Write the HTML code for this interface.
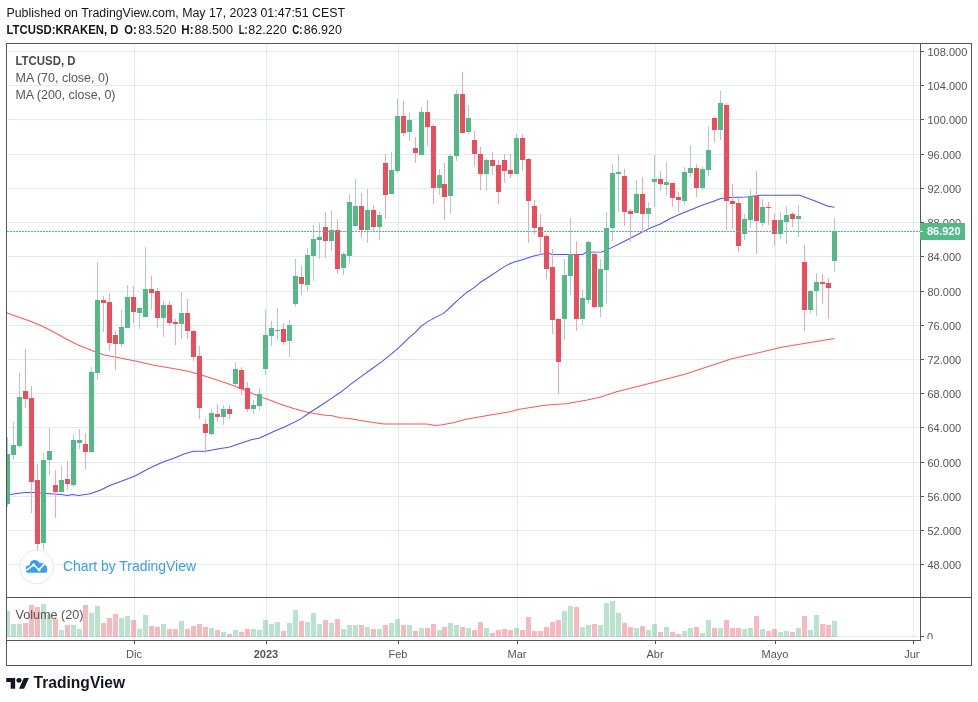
<!DOCTYPE html>
<html lang="en"><head><meta charset="utf-8"><title>LTCUSD chart</title>
<style>html,body{margin:0;padding:0;background:#fff;}body{width:978px;height:702px;overflow:hidden;}svg{display:block;will-change:transform;}</style>
</head><body>
<svg width="978" height="702" viewBox="0 0 978 702" font-family='"Liberation Sans", sans-serif'>
<rect x="0" y="0" width="978" height="702" fill="#ffffff"/>
<defs><clipPath id="cpMain"><rect x="7" y="44" width="913" height="553"/></clipPath><clipPath id="cpVol"><rect x="7" y="598" width="913" height="42"/></clipPath><clipPath id="cpTime"><rect x="7" y="641" width="913" height="24"/></clipPath><clipPath id="cpVolAxis"><rect x="921" y="598" width="50" height="41"/></clipPath><clipPath id="cpPriceAxis"><rect x="921" y="44" width="50" height="553"/></clipPath></defs>
<g shape-rendering="crispEdges" stroke="#e1ecf2" stroke-width="1">
<line x1="134.5" y1="45" x2="134.5" y2="597"/>
<line x1="134.5" y1="598" x2="134.5" y2="639"/>
<line x1="266.5" y1="45" x2="266.5" y2="597"/>
<line x1="266.5" y1="598" x2="266.5" y2="639"/>
<line x1="398.5" y1="45" x2="398.5" y2="597"/>
<line x1="398.5" y1="598" x2="398.5" y2="639"/>
<line x1="517.5" y1="45" x2="517.5" y2="597"/>
<line x1="517.5" y1="598" x2="517.5" y2="639"/>
<line x1="655.5" y1="45" x2="655.5" y2="597"/>
<line x1="655.5" y1="598" x2="655.5" y2="639"/>
<line x1="775.5" y1="45" x2="775.5" y2="597"/>
<line x1="775.5" y1="598" x2="775.5" y2="639"/>
<line x1="913.5" y1="45" x2="913.5" y2="597"/>
<line x1="913.5" y1="598" x2="913.5" y2="639"/>
<line x1="8" y1="564.5" x2="919" y2="564.5"/>
<line x1="8" y1="530.5" x2="919" y2="530.5"/>
<line x1="8" y1="496.5" x2="919" y2="496.5"/>
<line x1="8" y1="462.5" x2="919" y2="462.5"/>
<line x1="8" y1="427.5" x2="919" y2="427.5"/>
<line x1="8" y1="393.5" x2="919" y2="393.5"/>
<line x1="8" y1="359.5" x2="919" y2="359.5"/>
<line x1="8" y1="325.5" x2="919" y2="325.5"/>
<line x1="8" y1="291.5" x2="919" y2="291.5"/>
<line x1="8" y1="256.5" x2="919" y2="256.5"/>
<line x1="8" y1="222.5" x2="919" y2="222.5"/>
<line x1="8" y1="188.5" x2="919" y2="188.5"/>
<line x1="8" y1="154.5" x2="919" y2="154.5"/>
<line x1="8" y1="119.5" x2="919" y2="119.5"/>
<line x1="8" y1="85.5" x2="919" y2="85.5"/>
<line x1="8" y1="51.5" x2="919" y2="51.5"/>
<line x1="8" y1="636.5" x2="919" y2="636.5"/>
</g>
<g clip-path="url(#cpVol)" shape-rendering="crispEdges">
<rect x="5" y="611" width="5" height="26" fill="rgba(83,185,135,0.4)"/>
<rect x="11" y="624" width="5" height="13" fill="rgba(83,185,135,0.4)"/>
<rect x="17" y="624" width="5" height="13" fill="rgba(83,185,135,0.4)"/>
<rect x="23" y="623" width="5" height="14" fill="rgba(235,77,92,0.4)"/>
<rect x="29" y="605" width="5" height="32" fill="rgba(235,77,92,0.4)"/>
<rect x="35" y="607" width="5" height="30" fill="rgba(235,77,92,0.4)"/>
<rect x="41" y="604" width="5" height="33" fill="rgba(83,185,135,0.4)"/>
<rect x="47" y="614" width="5" height="23" fill="rgba(83,185,135,0.4)"/>
<rect x="53" y="619" width="5" height="18" fill="rgba(235,77,92,0.4)"/>
<rect x="59" y="630" width="5" height="7" fill="rgba(83,185,135,0.4)"/>
<rect x="65" y="625" width="5" height="12" fill="rgba(235,77,92,0.4)"/>
<rect x="71" y="625" width="5" height="12" fill="rgba(83,185,135,0.4)"/>
<rect x="77" y="629" width="5" height="8" fill="rgba(83,185,135,0.4)"/>
<rect x="83" y="605" width="5" height="32" fill="rgba(235,77,92,0.4)"/>
<rect x="89" y="613" width="5" height="24" fill="rgba(83,185,135,0.4)"/>
<rect x="95" y="606" width="5" height="31" fill="rgba(83,185,135,0.4)"/>
<rect x="101" y="623" width="5" height="14" fill="rgba(235,77,92,0.4)"/>
<rect x="107" y="618" width="5" height="19" fill="rgba(235,77,92,0.4)"/>
<rect x="113" y="614" width="5" height="23" fill="rgba(235,77,92,0.4)"/>
<rect x="119" y="618" width="5" height="19" fill="rgba(83,185,135,0.4)"/>
<rect x="125" y="616" width="5" height="21" fill="rgba(83,185,135,0.4)"/>
<rect x="131" y="620" width="5" height="17" fill="rgba(235,77,92,0.4)"/>
<rect x="137" y="629" width="5" height="8" fill="rgba(83,185,135,0.4)"/>
<rect x="143" y="615" width="5" height="22" fill="rgba(83,185,135,0.4)"/>
<rect x="149" y="626" width="5" height="11" fill="rgba(235,77,92,0.4)"/>
<rect x="155" y="627" width="5" height="10" fill="rgba(235,77,92,0.4)"/>
<rect x="161" y="624" width="5" height="13" fill="rgba(83,185,135,0.4)"/>
<rect x="167" y="629" width="5" height="8" fill="rgba(235,77,92,0.4)"/>
<rect x="173" y="629" width="5" height="8" fill="rgba(235,77,92,0.4)"/>
<rect x="179" y="621" width="5" height="16" fill="rgba(83,185,135,0.4)"/>
<rect x="185" y="629" width="5" height="8" fill="rgba(235,77,92,0.4)"/>
<rect x="191" y="626" width="5" height="11" fill="rgba(235,77,92,0.4)"/>
<rect x="197" y="624" width="5" height="13" fill="rgba(235,77,92,0.4)"/>
<rect x="203" y="627" width="5" height="10" fill="rgba(235,77,92,0.4)"/>
<rect x="209" y="628" width="5" height="9" fill="rgba(83,185,135,0.4)"/>
<rect x="215" y="630" width="5" height="7" fill="rgba(235,77,92,0.4)"/>
<rect x="221" y="632" width="5" height="5" fill="rgba(83,185,135,0.4)"/>
<rect x="227" y="634" width="5" height="3" fill="rgba(235,77,92,0.4)"/>
<rect x="233" y="630" width="5" height="7" fill="rgba(83,185,135,0.4)"/>
<rect x="239" y="632" width="5" height="5" fill="rgba(235,77,92,0.4)"/>
<rect x="245" y="629" width="5" height="8" fill="rgba(235,77,92,0.4)"/>
<rect x="251" y="629" width="5" height="8" fill="rgba(83,185,135,0.4)"/>
<rect x="257" y="630" width="5" height="7" fill="rgba(83,185,135,0.4)"/>
<rect x="263" y="620" width="5" height="17" fill="rgba(83,185,135,0.4)"/>
<rect x="269" y="624" width="5" height="13" fill="rgba(83,185,135,0.4)"/>
<rect x="275" y="622" width="5" height="15" fill="rgba(83,185,135,0.4)"/>
<rect x="281" y="631" width="5" height="6" fill="rgba(235,77,92,0.4)"/>
<rect x="287" y="623" width="5" height="14" fill="rgba(83,185,135,0.4)"/>
<rect x="293" y="610" width="5" height="27" fill="rgba(83,185,135,0.4)"/>
<rect x="299" y="621" width="5" height="16" fill="rgba(235,77,92,0.4)"/>
<rect x="305" y="622" width="5" height="15" fill="rgba(83,185,135,0.4)"/>
<rect x="311" y="613" width="5" height="24" fill="rgba(83,185,135,0.4)"/>
<rect x="317" y="624" width="5" height="13" fill="rgba(83,185,135,0.4)"/>
<rect x="323" y="620" width="5" height="17" fill="rgba(235,77,92,0.4)"/>
<rect x="329" y="623" width="5" height="14" fill="rgba(83,185,135,0.4)"/>
<rect x="335" y="619" width="5" height="18" fill="rgba(235,77,92,0.4)"/>
<rect x="341" y="629" width="5" height="8" fill="rgba(83,185,135,0.4)"/>
<rect x="347" y="625" width="5" height="12" fill="rgba(83,185,135,0.4)"/>
<rect x="353" y="625" width="5" height="12" fill="rgba(83,185,135,0.4)"/>
<rect x="359" y="625" width="5" height="12" fill="rgba(235,77,92,0.4)"/>
<rect x="365" y="627" width="5" height="10" fill="rgba(83,185,135,0.4)"/>
<rect x="371" y="629" width="5" height="8" fill="rgba(235,77,92,0.4)"/>
<rect x="377" y="629" width="5" height="8" fill="rgba(83,185,135,0.4)"/>
<rect x="383" y="625" width="5" height="12" fill="rgba(235,77,92,0.4)"/>
<rect x="389" y="623" width="5" height="14" fill="rgba(83,185,135,0.4)"/>
<rect x="395" y="619" width="5" height="18" fill="rgba(83,185,135,0.4)"/>
<rect x="401" y="625" width="5" height="12" fill="rgba(235,77,92,0.4)"/>
<rect x="407" y="625" width="5" height="12" fill="rgba(83,185,135,0.4)"/>
<rect x="413" y="631" width="5" height="6" fill="rgba(235,77,92,0.4)"/>
<rect x="419" y="628" width="5" height="9" fill="rgba(83,185,135,0.4)"/>
<rect x="425" y="628" width="5" height="9" fill="rgba(235,77,92,0.4)"/>
<rect x="431" y="624" width="5" height="13" fill="rgba(235,77,92,0.4)"/>
<rect x="437" y="630" width="5" height="7" fill="rgba(83,185,135,0.4)"/>
<rect x="442" y="627" width="5" height="10" fill="rgba(235,77,92,0.4)"/>
<rect x="448" y="623" width="5" height="14" fill="rgba(83,185,135,0.4)"/>
<rect x="454" y="625" width="5" height="12" fill="rgba(83,185,135,0.4)"/>
<rect x="460" y="627" width="5" height="10" fill="rgba(235,77,92,0.4)"/>
<rect x="466" y="628" width="5" height="9" fill="rgba(83,185,135,0.4)"/>
<rect x="472" y="630" width="5" height="7" fill="rgba(235,77,92,0.4)"/>
<rect x="478" y="622" width="5" height="15" fill="rgba(235,77,92,0.4)"/>
<rect x="484" y="628" width="5" height="9" fill="rgba(83,185,135,0.4)"/>
<rect x="490" y="633" width="5" height="4" fill="rgba(235,77,92,0.4)"/>
<rect x="496" y="630" width="5" height="7" fill="rgba(235,77,92,0.4)"/>
<rect x="502" y="629" width="5" height="8" fill="rgba(235,77,92,0.4)"/>
<rect x="508" y="630" width="5" height="7" fill="rgba(235,77,92,0.4)"/>
<rect x="514" y="628" width="5" height="9" fill="rgba(83,185,135,0.4)"/>
<rect x="520" y="630" width="5" height="7" fill="rgba(235,77,92,0.4)"/>
<rect x="526" y="617" width="5" height="20" fill="rgba(235,77,92,0.4)"/>
<rect x="532" y="631" width="5" height="6" fill="rgba(235,77,92,0.4)"/>
<rect x="538" y="631" width="5" height="6" fill="rgba(235,77,92,0.4)"/>
<rect x="544" y="627" width="5" height="10" fill="rgba(235,77,92,0.4)"/>
<rect x="550" y="622" width="5" height="15" fill="rgba(235,77,92,0.4)"/>
<rect x="556" y="620" width="5" height="17" fill="rgba(235,77,92,0.4)"/>
<rect x="562" y="611" width="5" height="26" fill="rgba(83,185,135,0.4)"/>
<rect x="568" y="606" width="5" height="31" fill="rgba(83,185,135,0.4)"/>
<rect x="574" y="607" width="5" height="30" fill="rgba(235,77,92,0.4)"/>
<rect x="580" y="627" width="5" height="10" fill="rgba(83,185,135,0.4)"/>
<rect x="586" y="625" width="5" height="12" fill="rgba(83,185,135,0.4)"/>
<rect x="592" y="624" width="5" height="13" fill="rgba(235,77,92,0.4)"/>
<rect x="598" y="625" width="5" height="12" fill="rgba(83,185,135,0.4)"/>
<rect x="604" y="603" width="5" height="34" fill="rgba(83,185,135,0.4)"/>
<rect x="610" y="601" width="5" height="36" fill="rgba(83,185,135,0.4)"/>
<rect x="616" y="613" width="5" height="24" fill="rgba(83,185,135,0.4)"/>
<rect x="622" y="623" width="5" height="14" fill="rgba(235,77,92,0.4)"/>
<rect x="628" y="627" width="5" height="10" fill="rgba(235,77,92,0.4)"/>
<rect x="634" y="628" width="5" height="9" fill="rgba(83,185,135,0.4)"/>
<rect x="640" y="626" width="5" height="11" fill="rgba(235,77,92,0.4)"/>
<rect x="646" y="630" width="5" height="7" fill="rgba(83,185,135,0.4)"/>
<rect x="652" y="624" width="5" height="13" fill="rgba(83,185,135,0.4)"/>
<rect x="658" y="632" width="5" height="5" fill="rgba(235,77,92,0.4)"/>
<rect x="664" y="627" width="5" height="10" fill="rgba(83,185,135,0.4)"/>
<rect x="670" y="632" width="5" height="5" fill="rgba(235,77,92,0.4)"/>
<rect x="676" y="634" width="5" height="3" fill="rgba(235,77,92,0.4)"/>
<rect x="682" y="631" width="5" height="6" fill="rgba(83,185,135,0.4)"/>
<rect x="688" y="628" width="5" height="9" fill="rgba(83,185,135,0.4)"/>
<rect x="694" y="627" width="5" height="10" fill="rgba(235,77,92,0.4)"/>
<rect x="700" y="633" width="5" height="4" fill="rgba(83,185,135,0.4)"/>
<rect x="706" y="620" width="5" height="17" fill="rgba(83,185,135,0.4)"/>
<rect x="712" y="628" width="5" height="9" fill="rgba(235,77,92,0.4)"/>
<rect x="718" y="628" width="5" height="9" fill="rgba(83,185,135,0.4)"/>
<rect x="724" y="620" width="5" height="17" fill="rgba(235,77,92,0.4)"/>
<rect x="730" y="628" width="5" height="9" fill="rgba(235,77,92,0.4)"/>
<rect x="736" y="628" width="5" height="9" fill="rgba(235,77,92,0.4)"/>
<rect x="742" y="629" width="5" height="8" fill="rgba(83,185,135,0.4)"/>
<rect x="748" y="628" width="5" height="9" fill="rgba(83,185,135,0.4)"/>
<rect x="754" y="616" width="5" height="21" fill="rgba(235,77,92,0.4)"/>
<rect x="760" y="629" width="5" height="8" fill="rgba(83,185,135,0.4)"/>
<rect x="766" y="631" width="5" height="6" fill="rgba(235,77,92,0.4)"/>
<rect x="772" y="629" width="5" height="8" fill="rgba(235,77,92,0.4)"/>
<rect x="778" y="632" width="5" height="5" fill="rgba(83,185,135,0.4)"/>
<rect x="784" y="631" width="5" height="6" fill="rgba(83,185,135,0.4)"/>
<rect x="790" y="632" width="5" height="5" fill="rgba(235,77,92,0.4)"/>
<rect x="796" y="628" width="5" height="9" fill="rgba(83,185,135,0.4)"/>
<rect x="802" y="616" width="5" height="21" fill="rgba(235,77,92,0.4)"/>
<rect x="808" y="630" width="5" height="7" fill="rgba(83,185,135,0.4)"/>
<rect x="814" y="615" width="5" height="22" fill="rgba(83,185,135,0.4)"/>
<rect x="820" y="624" width="5" height="13" fill="rgba(235,77,92,0.4)"/>
<rect x="826" y="625" width="5" height="12" fill="rgba(235,77,92,0.4)"/>
<rect x="832" y="621" width="5" height="16" fill="rgba(83,185,135,0.4)"/>
</g>
<g clip-path="url(#cpMain)">
<polyline points="6.0,312.5 7.1,312.9 18.8,317.2 30.6,321.2 42.3,326.3 54.1,332.2 65.9,338.8 77.6,344.7 89.4,349.4 95.2,351.7 103.5,354.8 117.6,357.6 134.1,360.7 152.9,365.1 171.7,368.2 188.1,371.3 199.9,374.6 211.7,378.3 228.3,383.8 240.6,388.4 251.3,393.0 262.1,397.6 269.8,399.9 279.0,403.8 294.3,408.8 309.6,412.7 325.0,415.3 331.1,415.6 340.0,417.7 349.3,418.4 366.6,421.4 383.9,424.0 426.4,424.0 435.7,425.4 441.0,425.1 454.3,422.4 464.9,419.5 488.9,415.3 510.1,411.8 518.1,409.4 544.7,405.2 566.0,403.8 587.2,400.1 600.0,397.3 616.6,391.7 655.1,381.9 685.7,373.9 730.9,359.0 762.8,351.8 781.4,347.3 834.6,338.5" fill="none" stroke="#ff5858" stroke-width="1.05" stroke-linejoin="round"/>
<polyline points="6.0,494.8 10.2,494.6 24.5,492.4 32.7,492.4 49.0,493.8 61.3,494.6 67.5,495.4 72.6,494.6 78.7,495.6 90.0,493.8 100.2,490.3 110.4,485.2 122.7,480.7 135.0,476.0 151.3,467.2 163.6,461.7 173.8,458.2 184.0,454.1 193.3,451.3 205.3,451.3 217.6,449.0 229.9,447.0 240.6,443.2 251.3,439.8 259.8,438.0 266.7,434.8 275.9,430.6 285.1,426.8 300.4,419.1 309.6,412.7 320.4,405.8 330.3,399.1 340.5,392.3 350.8,384.1 361.0,376.6 371.3,369.2 381.5,361.9 388.4,356.4 398.6,347.9 408.9,337.9 415.0,332.6 421.4,325.9 427.8,321.6 434.9,317.6 443.5,313.4 450.6,307.0 457.7,300.1 467.7,291.7 473.4,288.1 480.5,282.3 489.1,276.8 497.6,271.1 504.7,266.4 510.4,263.5 515.0,261.8 521.8,259.9 532.0,256.4 540.2,254.4 548.4,253.3 552.5,254.4 583.1,254.4 586.2,252.3 601.6,252.1 609.7,248.6 624.0,241.5 640.0,233.2 650.2,228.1 660.4,224.0 670.7,218.2 680.9,213.7 691.1,209.7 701.3,205.6 711.6,202.1 720.8,198.4 730.0,197.4 746.3,197.0 760.7,195.3 799.5,195.3 813.8,200.4 828.1,206.2 834.5,207.3" fill="none" stroke="#5050ff" stroke-width="1.05" stroke-linejoin="round"/>
<g shape-rendering="crispEdges">
<rect x="834" y="218" width="1" height="54" fill="#a9cdd3"/>
<rect x="832" y="231" width="5" height="30" fill="#53b987"/>
<rect x="828" y="278" width="1" height="41" fill="#f5a6ae"/>
<rect x="826" y="283" width="5" height="5" fill="#eb4d5c"/>
<rect x="822" y="274" width="1" height="30" fill="#f5a6ae"/>
<rect x="820" y="282" width="5" height="2" fill="#eb4d5c"/>
<rect x="816" y="273" width="1" height="43" fill="#a9cdd3"/>
<rect x="814" y="282" width="5" height="9" fill="#53b987"/>
<rect x="810" y="290" width="1" height="23" fill="#a9cdd3"/>
<rect x="808" y="291" width="5" height="19" fill="#53b987"/>
<rect x="804" y="245" width="1" height="86" fill="#f5a6ae"/>
<rect x="802" y="262" width="5" height="48" fill="#eb4d5c"/>
<rect x="798" y="205" width="1" height="32" fill="#a9cdd3"/>
<rect x="796" y="216" width="5" height="3" fill="#53b987"/>
<rect x="792" y="212" width="1" height="15" fill="#f5a6ae"/>
<rect x="790" y="214" width="5" height="5" fill="#eb4d5c"/>
<rect x="786" y="206" width="1" height="38" fill="#a9cdd3"/>
<rect x="784" y="215" width="5" height="7" fill="#53b987"/>
<rect x="780" y="212" width="1" height="27" fill="#a9cdd3"/>
<rect x="778" y="220" width="5" height="14" fill="#53b987"/>
<rect x="774" y="214" width="1" height="32" fill="#f5a6ae"/>
<rect x="772" y="220" width="5" height="14" fill="#eb4d5c"/>
<rect x="768" y="202" width="1" height="23" fill="#f5a6ae"/>
<rect x="766" y="207" width="5" height="1" fill="#eb4d5c"/>
<rect x="762" y="199" width="1" height="28" fill="#a9cdd3"/>
<rect x="760" y="207" width="5" height="16" fill="#53b987"/>
<rect x="756" y="171" width="1" height="83" fill="#f5a6ae"/>
<rect x="754" y="196" width="5" height="25" fill="#eb4d5c"/>
<rect x="750" y="190" width="1" height="38" fill="#a9cdd3"/>
<rect x="748" y="196" width="5" height="24" fill="#53b987"/>
<rect x="744" y="214" width="1" height="26" fill="#a9cdd3"/>
<rect x="742" y="219" width="5" height="15" fill="#53b987"/>
<rect x="738" y="198" width="1" height="54" fill="#f5a6ae"/>
<rect x="736" y="203" width="5" height="43" fill="#eb4d5c"/>
<rect x="732" y="184" width="1" height="45" fill="#f5a6ae"/>
<rect x="730" y="201" width="5" height="3" fill="#eb4d5c"/>
<rect x="726" y="103" width="1" height="127" fill="#f5a6ae"/>
<rect x="724" y="105" width="5" height="96" fill="#eb4d5c"/>
<rect x="720" y="91" width="1" height="49" fill="#a9cdd3"/>
<rect x="718" y="103" width="5" height="27" fill="#53b987"/>
<rect x="714" y="117" width="1" height="25" fill="#f5a6ae"/>
<rect x="712" y="118" width="5" height="12" fill="#eb4d5c"/>
<rect x="708" y="126" width="1" height="50" fill="#a9cdd3"/>
<rect x="706" y="150" width="5" height="20" fill="#53b987"/>
<rect x="702" y="166" width="1" height="24" fill="#a9cdd3"/>
<rect x="700" y="169" width="5" height="19" fill="#53b987"/>
<rect x="696" y="164" width="1" height="33" fill="#f5a6ae"/>
<rect x="694" y="168" width="5" height="20" fill="#eb4d5c"/>
<rect x="690" y="145" width="1" height="32" fill="#a9cdd3"/>
<rect x="688" y="168" width="5" height="5" fill="#53b987"/>
<rect x="684" y="167" width="1" height="38" fill="#a9cdd3"/>
<rect x="682" y="172" width="5" height="29" fill="#53b987"/>
<rect x="678" y="192" width="1" height="20" fill="#f5a6ae"/>
<rect x="676" y="197" width="5" height="3" fill="#eb4d5c"/>
<rect x="672" y="183" width="1" height="24" fill="#f5a6ae"/>
<rect x="670" y="183" width="5" height="15" fill="#eb4d5c"/>
<rect x="666" y="162" width="1" height="34" fill="#a9cdd3"/>
<rect x="664" y="182" width="5" height="3" fill="#53b987"/>
<rect x="660" y="171" width="1" height="20" fill="#f5a6ae"/>
<rect x="658" y="179" width="5" height="5" fill="#eb4d5c"/>
<rect x="654" y="155" width="1" height="52" fill="#a9cdd3"/>
<rect x="652" y="179" width="5" height="3" fill="#53b987"/>
<rect x="648" y="202" width="1" height="26" fill="#a9cdd3"/>
<rect x="646" y="208" width="5" height="6" fill="#53b987"/>
<rect x="642" y="177" width="1" height="56" fill="#f5a6ae"/>
<rect x="640" y="194" width="5" height="20" fill="#eb4d5c"/>
<rect x="636" y="180" width="1" height="33" fill="#a9cdd3"/>
<rect x="634" y="194" width="5" height="19" fill="#53b987"/>
<rect x="630" y="209" width="1" height="33" fill="#f5a6ae"/>
<rect x="628" y="211" width="5" height="3" fill="#eb4d5c"/>
<rect x="624" y="169" width="1" height="57" fill="#f5a6ae"/>
<rect x="622" y="176" width="5" height="36" fill="#eb4d5c"/>
<rect x="618" y="155" width="1" height="57" fill="#a9cdd3"/>
<rect x="616" y="172" width="5" height="2" fill="#53b987"/>
<rect x="612" y="164" width="1" height="77" fill="#a9cdd3"/>
<rect x="610" y="173" width="5" height="55" fill="#53b987"/>
<rect x="606" y="212" width="1" height="92" fill="#a9cdd3"/>
<rect x="604" y="228" width="5" height="42" fill="#53b987"/>
<rect x="600" y="259" width="1" height="58" fill="#a9cdd3"/>
<rect x="598" y="269" width="5" height="38" fill="#53b987"/>
<rect x="594" y="251" width="1" height="57" fill="#f5a6ae"/>
<rect x="592" y="254" width="5" height="53" fill="#eb4d5c"/>
<rect x="588" y="241" width="1" height="63" fill="#a9cdd3"/>
<rect x="586" y="242" width="5" height="58" fill="#53b987"/>
<rect x="582" y="290" width="1" height="35" fill="#a9cdd3"/>
<rect x="580" y="298" width="5" height="21" fill="#53b987"/>
<rect x="576" y="241" width="1" height="90" fill="#f5a6ae"/>
<rect x="574" y="254" width="5" height="65" fill="#eb4d5c"/>
<rect x="570" y="218" width="1" height="77" fill="#a9cdd3"/>
<rect x="568" y="254" width="5" height="22" fill="#53b987"/>
<rect x="564" y="259" width="1" height="81" fill="#a9cdd3"/>
<rect x="562" y="275" width="5" height="44" fill="#53b987"/>
<rect x="558" y="318" width="1" height="76" fill="#f5a6ae"/>
<rect x="556" y="319" width="5" height="43" fill="#eb4d5c"/>
<rect x="552" y="249" width="1" height="85" fill="#f5a6ae"/>
<rect x="550" y="267" width="5" height="53" fill="#eb4d5c"/>
<rect x="546" y="234" width="1" height="45" fill="#f5a6ae"/>
<rect x="544" y="236" width="5" height="33" fill="#eb4d5c"/>
<rect x="540" y="214" width="1" height="41" fill="#f5a6ae"/>
<rect x="538" y="227" width="5" height="10" fill="#eb4d5c"/>
<rect x="534" y="200" width="1" height="34" fill="#f5a6ae"/>
<rect x="532" y="206" width="5" height="22" fill="#eb4d5c"/>
<rect x="528" y="158" width="1" height="85" fill="#f5a6ae"/>
<rect x="526" y="159" width="5" height="42" fill="#eb4d5c"/>
<rect x="522" y="134" width="1" height="37" fill="#f5a6ae"/>
<rect x="520" y="138" width="5" height="22" fill="#eb4d5c"/>
<rect x="516" y="134" width="1" height="40" fill="#a9cdd3"/>
<rect x="514" y="138" width="5" height="36" fill="#53b987"/>
<rect x="510" y="154" width="1" height="24" fill="#f5a6ae"/>
<rect x="508" y="170" width="5" height="4" fill="#eb4d5c"/>
<rect x="504" y="154" width="1" height="29" fill="#f5a6ae"/>
<rect x="502" y="160" width="5" height="11" fill="#eb4d5c"/>
<rect x="498" y="160" width="1" height="44" fill="#f5a6ae"/>
<rect x="496" y="165" width="5" height="27" fill="#eb4d5c"/>
<rect x="492" y="152" width="1" height="23" fill="#f5a6ae"/>
<rect x="490" y="160" width="5" height="6" fill="#eb4d5c"/>
<rect x="486" y="158" width="1" height="33" fill="#a9cdd3"/>
<rect x="484" y="160" width="5" height="14" fill="#53b987"/>
<rect x="480" y="147" width="1" height="43" fill="#f5a6ae"/>
<rect x="478" y="154" width="5" height="20" fill="#eb4d5c"/>
<rect x="474" y="131" width="1" height="35" fill="#f5a6ae"/>
<rect x="472" y="140" width="5" height="14" fill="#eb4d5c"/>
<rect x="468" y="105" width="1" height="29" fill="#a9cdd3"/>
<rect x="466" y="118" width="5" height="14" fill="#53b987"/>
<rect x="462" y="72" width="1" height="61" fill="#f5a6ae"/>
<rect x="460" y="94" width="5" height="39" fill="#eb4d5c"/>
<rect x="456" y="90" width="1" height="71" fill="#a9cdd3"/>
<rect x="454" y="94" width="5" height="62" fill="#53b987"/>
<rect x="450" y="154" width="1" height="60" fill="#a9cdd3"/>
<rect x="448" y="156" width="5" height="40" fill="#53b987"/>
<rect x="444" y="163" width="1" height="57" fill="#f5a6ae"/>
<rect x="442" y="184" width="5" height="13" fill="#eb4d5c"/>
<rect x="439" y="169" width="1" height="26" fill="#a9cdd3"/>
<rect x="437" y="175" width="5" height="13" fill="#53b987"/>
<rect x="433" y="124" width="1" height="80" fill="#f5a6ae"/>
<rect x="431" y="126" width="5" height="62" fill="#eb4d5c"/>
<rect x="427" y="100" width="1" height="46" fill="#f5a6ae"/>
<rect x="425" y="112" width="5" height="15" fill="#eb4d5c"/>
<rect x="421" y="107" width="1" height="48" fill="#a9cdd3"/>
<rect x="419" y="112" width="5" height="43" fill="#53b987"/>
<rect x="415" y="137" width="1" height="26" fill="#f5a6ae"/>
<rect x="413" y="148" width="5" height="5" fill="#eb4d5c"/>
<rect x="409" y="113" width="1" height="28" fill="#a9cdd3"/>
<rect x="407" y="120" width="5" height="12" fill="#53b987"/>
<rect x="403" y="101" width="1" height="35" fill="#f5a6ae"/>
<rect x="401" y="116" width="5" height="17" fill="#eb4d5c"/>
<rect x="397" y="99" width="1" height="74" fill="#a9cdd3"/>
<rect x="395" y="116" width="5" height="55" fill="#53b987"/>
<rect x="391" y="152" width="1" height="42" fill="#a9cdd3"/>
<rect x="389" y="170" width="5" height="24" fill="#53b987"/>
<rect x="385" y="154" width="1" height="65" fill="#f5a6ae"/>
<rect x="383" y="163" width="5" height="32" fill="#eb4d5c"/>
<rect x="379" y="212" width="1" height="28" fill="#a9cdd3"/>
<rect x="377" y="215" width="5" height="12" fill="#53b987"/>
<rect x="373" y="205" width="1" height="26" fill="#f5a6ae"/>
<rect x="371" y="210" width="5" height="17" fill="#eb4d5c"/>
<rect x="367" y="189" width="1" height="54" fill="#a9cdd3"/>
<rect x="365" y="210" width="5" height="20" fill="#53b987"/>
<rect x="361" y="193" width="1" height="45" fill="#f5a6ae"/>
<rect x="359" y="206" width="5" height="24" fill="#eb4d5c"/>
<rect x="355" y="179" width="1" height="48" fill="#a9cdd3"/>
<rect x="353" y="206" width="5" height="20" fill="#53b987"/>
<rect x="349" y="194" width="1" height="70" fill="#a9cdd3"/>
<rect x="347" y="202" width="5" height="54" fill="#53b987"/>
<rect x="343" y="252" width="1" height="23" fill="#a9cdd3"/>
<rect x="341" y="254" width="5" height="14" fill="#53b987"/>
<rect x="337" y="219" width="1" height="55" fill="#f5a6ae"/>
<rect x="335" y="230" width="5" height="39" fill="#eb4d5c"/>
<rect x="331" y="210" width="1" height="41" fill="#a9cdd3"/>
<rect x="329" y="230" width="5" height="11" fill="#53b987"/>
<rect x="325" y="212" width="1" height="46" fill="#f5a6ae"/>
<rect x="323" y="227" width="5" height="14" fill="#eb4d5c"/>
<rect x="319" y="223" width="1" height="36" fill="#a9cdd3"/>
<rect x="317" y="237" width="5" height="3" fill="#53b987"/>
<rect x="313" y="225" width="1" height="56" fill="#a9cdd3"/>
<rect x="311" y="239" width="5" height="17" fill="#53b987"/>
<rect x="307" y="248" width="1" height="43" fill="#a9cdd3"/>
<rect x="305" y="255" width="5" height="30" fill="#53b987"/>
<rect x="301" y="266" width="1" height="29" fill="#f5a6ae"/>
<rect x="299" y="277" width="5" height="7" fill="#eb4d5c"/>
<rect x="295" y="259" width="1" height="48" fill="#a9cdd3"/>
<rect x="293" y="276" width="5" height="28" fill="#53b987"/>
<rect x="289" y="320" width="1" height="37" fill="#a9cdd3"/>
<rect x="287" y="325" width="5" height="16" fill="#53b987"/>
<rect x="283" y="323" width="1" height="22" fill="#f5a6ae"/>
<rect x="281" y="329" width="5" height="13" fill="#eb4d5c"/>
<rect x="277" y="308" width="1" height="32" fill="#a9cdd3"/>
<rect x="275" y="330" width="5" height="1" fill="#53b987"/>
<rect x="271" y="321" width="1" height="25" fill="#a9cdd3"/>
<rect x="269" y="328" width="5" height="8" fill="#53b987"/>
<rect x="265" y="310" width="1" height="65" fill="#a9cdd3"/>
<rect x="263" y="335" width="5" height="34" fill="#53b987"/>
<rect x="259" y="388" width="1" height="22" fill="#a9cdd3"/>
<rect x="257" y="394" width="5" height="12" fill="#53b987"/>
<rect x="253" y="400" width="1" height="14" fill="#a9cdd3"/>
<rect x="251" y="405" width="5" height="4" fill="#53b987"/>
<rect x="247" y="382" width="1" height="30" fill="#f5a6ae"/>
<rect x="245" y="388" width="5" height="21" fill="#eb4d5c"/>
<rect x="241" y="367" width="1" height="28" fill="#f5a6ae"/>
<rect x="239" y="370" width="5" height="19" fill="#eb4d5c"/>
<rect x="235" y="362" width="1" height="25" fill="#a9cdd3"/>
<rect x="233" y="369" width="5" height="15" fill="#53b987"/>
<rect x="229" y="405" width="1" height="14" fill="#f5a6ae"/>
<rect x="227" y="409" width="5" height="5" fill="#eb4d5c"/>
<rect x="223" y="405" width="1" height="20" fill="#a9cdd3"/>
<rect x="221" y="409" width="5" height="8" fill="#53b987"/>
<rect x="217" y="404" width="1" height="18" fill="#f5a6ae"/>
<rect x="215" y="414" width="5" height="3" fill="#eb4d5c"/>
<rect x="211" y="409" width="1" height="26" fill="#a9cdd3"/>
<rect x="209" y="413" width="5" height="21" fill="#53b987"/>
<rect x="205" y="419" width="1" height="34" fill="#f5a6ae"/>
<rect x="203" y="424" width="5" height="9" fill="#eb4d5c"/>
<rect x="199" y="346" width="1" height="73" fill="#f5a6ae"/>
<rect x="197" y="356" width="5" height="52" fill="#eb4d5c"/>
<rect x="193" y="330" width="1" height="31" fill="#f5a6ae"/>
<rect x="191" y="331" width="5" height="26" fill="#eb4d5c"/>
<rect x="187" y="299" width="1" height="40" fill="#f5a6ae"/>
<rect x="185" y="313" width="5" height="18" fill="#eb4d5c"/>
<rect x="181" y="292" width="1" height="47" fill="#a9cdd3"/>
<rect x="179" y="313" width="5" height="11" fill="#53b987"/>
<rect x="175" y="319" width="1" height="26" fill="#f5a6ae"/>
<rect x="173" y="322" width="5" height="2" fill="#eb4d5c"/>
<rect x="169" y="301" width="1" height="25" fill="#f5a6ae"/>
<rect x="167" y="305" width="5" height="18" fill="#eb4d5c"/>
<rect x="163" y="301" width="1" height="36" fill="#a9cdd3"/>
<rect x="161" y="305" width="5" height="13" fill="#53b987"/>
<rect x="157" y="288" width="1" height="40" fill="#f5a6ae"/>
<rect x="155" y="291" width="5" height="27" fill="#eb4d5c"/>
<rect x="151" y="276" width="1" height="34" fill="#f5a6ae"/>
<rect x="149" y="289" width="5" height="4" fill="#eb4d5c"/>
<rect x="145" y="247" width="1" height="70" fill="#a9cdd3"/>
<rect x="143" y="289" width="5" height="28" fill="#53b987"/>
<rect x="139" y="307" width="1" height="22" fill="#a9cdd3"/>
<rect x="137" y="308" width="5" height="5" fill="#53b987"/>
<rect x="133" y="286" width="1" height="37" fill="#f5a6ae"/>
<rect x="131" y="297" width="5" height="15" fill="#eb4d5c"/>
<rect x="127" y="285" width="1" height="43" fill="#a9cdd3"/>
<rect x="125" y="297" width="5" height="31" fill="#53b987"/>
<rect x="121" y="310" width="1" height="37" fill="#a9cdd3"/>
<rect x="119" y="327" width="5" height="17" fill="#53b987"/>
<rect x="115" y="331" width="1" height="39" fill="#f5a6ae"/>
<rect x="113" y="335" width="5" height="9" fill="#eb4d5c"/>
<rect x="109" y="293" width="1" height="58" fill="#f5a6ae"/>
<rect x="107" y="302" width="5" height="41" fill="#eb4d5c"/>
<rect x="103" y="296" width="1" height="36" fill="#f5a6ae"/>
<rect x="101" y="300" width="5" height="3" fill="#eb4d5c"/>
<rect x="97" y="262" width="1" height="118" fill="#a9cdd3"/>
<rect x="95" y="300" width="5" height="73" fill="#53b987"/>
<rect x="91" y="367" width="1" height="86" fill="#a9cdd3"/>
<rect x="89" y="372" width="5" height="80" fill="#53b987"/>
<rect x="85" y="433" width="1" height="36" fill="#f5a6ae"/>
<rect x="83" y="444" width="5" height="8" fill="#eb4d5c"/>
<rect x="79" y="429" width="1" height="20" fill="#a9cdd3"/>
<rect x="77" y="440" width="5" height="3" fill="#53b987"/>
<rect x="73" y="434" width="1" height="53" fill="#a9cdd3"/>
<rect x="71" y="440" width="5" height="45" fill="#53b987"/>
<rect x="67" y="461" width="1" height="29" fill="#f5a6ae"/>
<rect x="65" y="479" width="5" height="5" fill="#eb4d5c"/>
<rect x="61" y="466" width="1" height="26" fill="#a9cdd3"/>
<rect x="59" y="480" width="5" height="12" fill="#53b987"/>
<rect x="55" y="470" width="1" height="48" fill="#f5a6ae"/>
<rect x="53" y="485" width="5" height="7" fill="#eb4d5c"/>
<rect x="49" y="428" width="1" height="47" fill="#a9cdd3"/>
<rect x="47" y="451" width="5" height="9" fill="#53b987"/>
<rect x="43" y="453" width="1" height="97" fill="#a9cdd3"/>
<rect x="41" y="460" width="5" height="83" fill="#53b987"/>
<rect x="37" y="464" width="1" height="87" fill="#f5a6ae"/>
<rect x="35" y="480" width="5" height="64" fill="#eb4d5c"/>
<rect x="31" y="386" width="1" height="127" fill="#f5a6ae"/>
<rect x="29" y="398" width="5" height="84" fill="#eb4d5c"/>
<rect x="25" y="349" width="1" height="59" fill="#f5a6ae"/>
<rect x="23" y="391" width="5" height="8" fill="#eb4d5c"/>
<rect x="19" y="373" width="1" height="74" fill="#a9cdd3"/>
<rect x="17" y="397" width="5" height="49" fill="#53b987"/>
<rect x="13" y="422" width="1" height="38" fill="#a9cdd3"/>
<rect x="11" y="445" width="5" height="10" fill="#53b987"/>
<rect x="7" y="437" width="1" height="70" fill="#a9cdd3"/>
<rect x="5" y="454" width="5" height="50" fill="#53b987"/>
</g>
<line x1="7" y1="231.5" x2="920" y2="231.5" stroke="#53b987" stroke-width="1" stroke-dasharray="2,1" shape-rendering="crispEdges"/>
</g>
<g shape-rendering="crispEdges" fill="#555555">
<rect x="6" y="43" width="966" height="1"/>
<rect x="6" y="665" width="966" height="1"/>
<rect x="6" y="43" width="1" height="623"/>
<rect x="971" y="43" width="1" height="623"/>
<rect x="920" y="43" width="1" height="598"/>
<rect x="6" y="597" width="966" height="1"/>
<rect x="6" y="640" width="915" height="1"/>
<rect x="921" y="564" width="3" height="1"/>
<rect x="921" y="530" width="3" height="1"/>
<rect x="921" y="496" width="3" height="1"/>
<rect x="921" y="462" width="3" height="1"/>
<rect x="921" y="427" width="3" height="1"/>
<rect x="921" y="393" width="3" height="1"/>
<rect x="921" y="359" width="3" height="1"/>
<rect x="921" y="325" width="3" height="1"/>
<rect x="921" y="291" width="3" height="1"/>
<rect x="921" y="256" width="3" height="1"/>
<rect x="921" y="222" width="3" height="1"/>
<rect x="921" y="188" width="3" height="1"/>
<rect x="921" y="154" width="3" height="1"/>
<rect x="921" y="119" width="3" height="1"/>
<rect x="921" y="85" width="3" height="1"/>
<rect x="921" y="51" width="3" height="1"/>
<rect x="921" y="636" width="3" height="1"/>
<rect x="134" y="641" width="1" height="3"/>
<rect x="266" y="641" width="1" height="3"/>
<rect x="398" y="641" width="1" height="3"/>
<rect x="517" y="641" width="1" height="3"/>
<rect x="655" y="641" width="1" height="3"/>
<rect x="775" y="641" width="1" height="3"/>
<rect x="913" y="641" width="1" height="3"/>
</g>
<g clip-path="url(#cpPriceAxis)" font-size="11" fill="#555555">
<text x="927.5" y="568.9">48.000</text>
<text x="927.5" y="534.9">52.000</text>
<text x="927.5" y="500.9">56.000</text>
<text x="927.5" y="466.9">60.000</text>
<text x="927.5" y="431.9">64.000</text>
<text x="927.5" y="397.9">68.000</text>
<text x="927.5" y="363.9">72.000</text>
<text x="927.5" y="329.9">76.000</text>
<text x="927.5" y="295.9">80.000</text>
<text x="927.5" y="260.9">84.000</text>
<text x="927.5" y="226.9">88.000</text>
<text x="927.5" y="192.9">92.000</text>
<text x="927.5" y="158.9">96.000</text>
<text x="927.5" y="123.9">100.000</text>
<text x="927.5" y="89.9">104.000</text>
<text x="927.5" y="55.9">108.000</text>
</g>
<g clip-path="url(#cpVolAxis)" font-size="11" fill="#555555"><text x="927" y="641">0</text></g>
<rect x="920" y="223" width="45" height="17" fill="#53b987" shape-rendering="crispEdges"/>
<rect x="920" y="231" width="3" height="1" fill="#ffffff" shape-rendering="crispEdges"/>
<text x="927" y="234.7" font-size="11.5" font-weight="bold" fill="#ffffff" textLength="33.5" lengthAdjust="spacingAndGlyphs">86.920</text>
<g clip-path="url(#cpTime)" font-size="11" fill="#555555" text-anchor="middle">
<text x="134" y="658">Dic</text>
<text x="266" y="658" font-weight="bold">2023</text>
<text x="398" y="658">Feb</text>
<text x="517" y="658">Mar</text>
<text x="655" y="658">Abr</text>
<text x="775" y="658">Mayo</text>
<text x="913" y="658">Jun</text>
</g>
<text x="15.5" y="65" font-size="12" font-weight="bold" fill="#4a4a4a" textLength="60" lengthAdjust="spacingAndGlyphs">LTCUSD, D</text>
<text x="15.5" y="81.7" font-size="12" fill="#555555" textLength="93.5" lengthAdjust="spacingAndGlyphs">MA (70, close, 0)</text>
<text x="15.5" y="98.6" font-size="12" fill="#555555" textLength="100" lengthAdjust="spacingAndGlyphs">MA (200, close, 0)</text>
<text x="15.5" y="618.5" font-size="12" fill="#555555" textLength="68" lengthAdjust="spacingAndGlyphs">Volume (20)</text>
<text x="6.5" y="16.7" font-size="12" fill="#151515" textLength="338.5" lengthAdjust="spacingAndGlyphs">Published on TradingView.com, May 17, 2023 01:47:51 CEST</text>
<text x="6.5" y="33.6" font-size="12" fill="#151515" font-weight="bold" textLength="111.9" lengthAdjust="spacingAndGlyphs">LTCUSD:KRAKEN, D</text>
<text x="124.3" y="33.6" font-size="12" fill="#151515" font-weight="bold" textLength="12.5" lengthAdjust="spacingAndGlyphs">O:</text>
<text x="138.3" y="33.6" font-size="12" fill="#151515" textLength="38.2" lengthAdjust="spacingAndGlyphs">83.520</text>
<text x="181.3" y="33.6" font-size="12" fill="#151515" font-weight="bold" textLength="12.3" lengthAdjust="spacingAndGlyphs">H:</text>
<text x="194.6" y="33.6" font-size="12" fill="#151515" textLength="38.5" lengthAdjust="spacingAndGlyphs">88.500</text>
<text x="238.8" y="33.6" font-size="12" fill="#151515" font-weight="bold" textLength="8.8" lengthAdjust="spacingAndGlyphs">L:</text>
<text x="248.3" y="33.6" font-size="12" fill="#151515" textLength="38.5" lengthAdjust="spacingAndGlyphs">82.220</text>
<text x="292.2" y="33.6" font-size="12" fill="#151515" font-weight="bold" textLength="10.3" lengthAdjust="spacingAndGlyphs">C:</text>
<text x="303.7" y="33.6" font-size="12" fill="#151515" textLength="38.2" lengthAdjust="spacingAndGlyphs">86.920</text>
<circle cx="36.5" cy="566.9" r="16.8" fill="#ffffff" stroke="#e6e6e6" stroke-width="1"/>
<g transform="translate(16,546) scale(0.05984)"><path d="M205 448 C180 448 166 440 166 410 L166 360 C166 335 190 318 232 322 C225 270 265 232 310 232 C345 232 375 250 390 280 C410 285 440 285 465 298 C500 320 522 350 522 385 L522 415 C522 440 505 448 480 448 Z" fill="#37a0e8"/><path d="M172 408 L295 315 L385 397 L472 303" fill="none" stroke="#ffffff" stroke-width="26"/><circle cx="295" cy="315" r="26" fill="#ffffff"/><circle cx="385" cy="397" r="26" fill="#ffffff"/></g>
<text x="63" y="571.4" font-size="15" fill="#3a9ee6" textLength="133" lengthAdjust="spacingAndGlyphs">Chart by TradingView</text>
<g transform="translate(6.2,675.5) scale(0.64,0.6)" fill="#131722"><path d="M14 22H7V11H0V4h14v18zM28 22h-8l7.5-18h8L28 22z"/><circle cx="20" cy="8" r="4"/></g>
<text x="33.5" y="688.4" font-size="15.6" font-weight="bold" fill="#131722" textLength="91.7" lengthAdjust="spacingAndGlyphs">TradingView</text>
</svg>
</body></html>
